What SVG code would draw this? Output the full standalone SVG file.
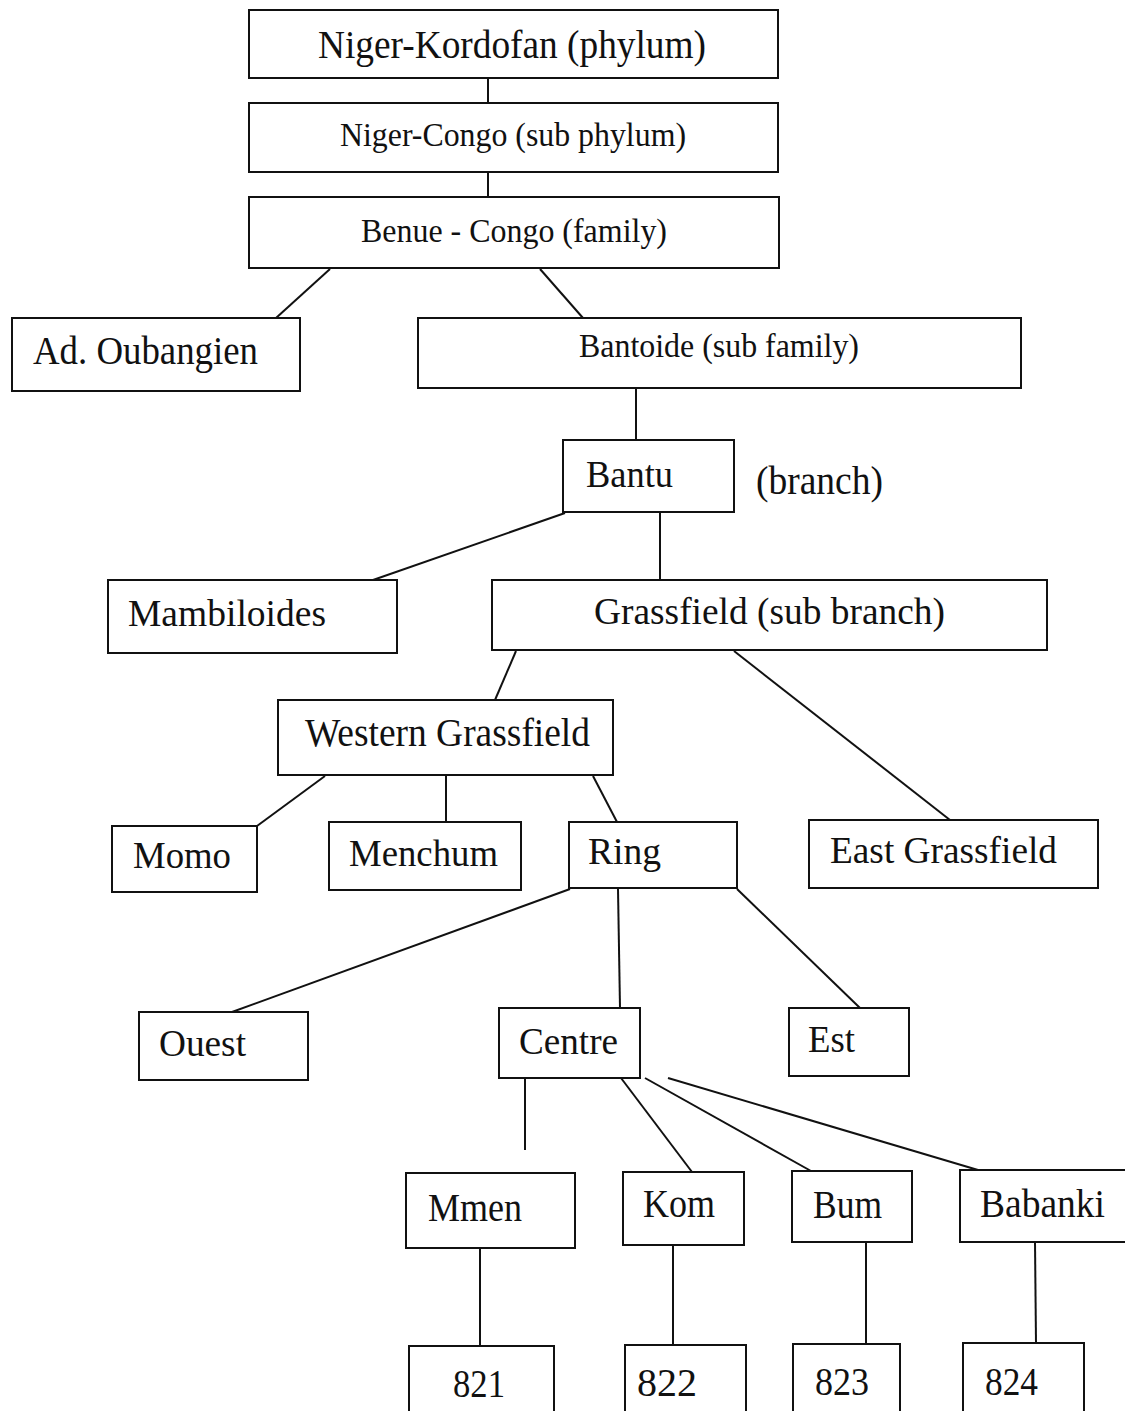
<svg xmlns="http://www.w3.org/2000/svg" width="1125" height="1411" viewBox="0 0 1125 1411">
<style>
rect{fill:#fff;stroke:#111;stroke-width:2}
line{stroke:#111;stroke-width:2}
text{font-family:"Liberation Serif","Times New Roman",serif;fill:#111;font-size:37px}
.m{font-size:33px}
.l{font-size:40px}
</style>
<rect x="0" y="0" width="1125" height="1411" style="stroke:none"/>
<g id="connectors">
<line x1="488" y1="78" x2="488" y2="103"/>
<line x1="488" y1="172" x2="488" y2="197"/>
<line x1="330" y1="269" x2="276" y2="318"/>
<line x1="540" y1="269" x2="583" y2="318"/>
<line x1="636" y1="388" x2="636" y2="440"/>
<line x1="565" y1="513" x2="373" y2="580"/>
<line x1="660" y1="512" x2="660" y2="580"/>
<line x1="516" y1="651" x2="495" y2="700"/>
<line x1="734" y1="651" x2="950" y2="820"/>
<line x1="325" y1="776" x2="257" y2="826"/>
<line x1="446" y1="776" x2="446" y2="822"/>
<line x1="593" y1="776" x2="617" y2="822"/>
<line x1="570" y1="889" x2="232" y2="1012"/>
<line x1="618" y1="889" x2="620" y2="1008"/>
<line x1="737" y1="889" x2="860" y2="1008"/>
<line x1="525" y1="1078" x2="525" y2="1150"/>
<line x1="621" y1="1078" x2="692" y2="1172"/>
<line x1="645" y1="1078" x2="811" y2="1171"/>
<line x1="668" y1="1078" x2="978" y2="1170"/>
<line x1="480" y1="1248" x2="480" y2="1346"/>
<line x1="673" y1="1245" x2="673" y2="1345"/>
<line x1="866" y1="1242" x2="866" y2="1344"/>
<line x1="1035" y1="1242" x2="1036" y2="1343"/>
</g>
<g id="n-niger-kordofan"><rect x="249" y="10" width="529" height="68"/><text x="318" y="58" textLength="388" lengthAdjust="spacingAndGlyphs" class="l">Niger-Kordofan (phylum)</text></g>
<g id="n-niger-congo"><rect x="249" y="103" width="529" height="69"/><text x="340" y="146" textLength="346" lengthAdjust="spacingAndGlyphs" class="m">Niger-Congo (sub phylum)</text></g>
<g id="n-benue-congo"><rect x="249" y="197" width="530" height="71"/><text x="361" y="242" textLength="306" lengthAdjust="spacingAndGlyphs" class="m">Benue - Congo (family)</text></g>
<g id="n-ad-oubangien"><rect x="12" y="318" width="288" height="73"/><text x="33" y="364" textLength="225" lengthAdjust="spacingAndGlyphs" class="l">Ad. Oubangien</text></g>
<g id="n-bantoide"><rect x="418" y="318" width="603" height="70"/><text x="579" y="357" textLength="280" lengthAdjust="spacingAndGlyphs" class="m">Bantoide (sub family)</text></g>
<g id="n-bantu"><rect x="563" y="440" width="171" height="72"/><text x="586" y="487" textLength="87" lengthAdjust="spacingAndGlyphs">Bantu</text></g>
<text x="756" y="494" textLength="127" lengthAdjust="spacingAndGlyphs" class="l">(branch)</text>
<g id="n-mambiloides"><rect x="108" y="580" width="289" height="73"/><text x="128" y="626" textLength="198" lengthAdjust="spacingAndGlyphs">Mambiloides</text></g>
<g id="n-grassfield"><rect x="492" y="580" width="555" height="70"/><text x="594" y="624" textLength="351" lengthAdjust="spacingAndGlyphs">Grassfield (sub branch)</text></g>
<g id="n-western"><rect x="278" y="700" width="335" height="75"/><text x="305" y="746" textLength="285" lengthAdjust="spacingAndGlyphs" class="l">Western Grassfield</text></g>
<g id="n-momo"><rect x="112" y="826" width="145" height="66"/><text x="133" y="868" textLength="98" lengthAdjust="spacingAndGlyphs">Momo</text></g>
<g id="n-menchum"><rect x="329" y="822" width="192" height="68"/><text x="349" y="866" textLength="149" lengthAdjust="spacingAndGlyphs">Menchum</text></g>
<g id="n-ring"><rect x="569" y="822" width="168" height="66"/><text x="588" y="864" textLength="73" lengthAdjust="spacingAndGlyphs">Ring</text></g>
<g id="n-east"><rect x="809" y="820" width="289" height="68"/><text x="830" y="863" textLength="227" lengthAdjust="spacingAndGlyphs">East Grassfield</text></g>
<g id="n-ouest"><rect x="139" y="1012" width="169" height="68"/><text x="159" y="1056" textLength="87" lengthAdjust="spacingAndGlyphs">Ouest</text></g>
<g id="n-centre"><rect x="499" y="1008" width="141" height="70"/><text x="519" y="1054" textLength="99" lengthAdjust="spacingAndGlyphs">Centre</text></g>
<g id="n-est"><rect x="789" y="1008" width="120" height="68"/><text x="808" y="1052" textLength="47" lengthAdjust="spacingAndGlyphs">Est</text></g>
<g id="n-mmen"><rect x="406" y="1173" width="169" height="75"/><text x="428" y="1221" textLength="94" lengthAdjust="spacingAndGlyphs" class="l">Mmen</text></g>
<g id="n-kom"><rect x="623" y="1172" width="121" height="73"/><text x="643" y="1217" textLength="72" lengthAdjust="spacingAndGlyphs" class="l">Kom</text></g>
<g id="n-bum"><rect x="792" y="1171" width="120" height="71"/><text x="813" y="1218" textLength="69" lengthAdjust="spacingAndGlyphs" class="l">Bum</text></g>
<g id="n-babanki"><rect x="960" y="1170" width="170" height="72"/><text x="980" y="1217" textLength="125" lengthAdjust="spacingAndGlyphs" class="l">Babanki</text></g>
<g id="n-821"><rect x="409" y="1346" width="145" height="72"/><text x="453" y="1397" textLength="52" lengthAdjust="spacingAndGlyphs" class="l">821</text></g>
<g id="n-822"><rect x="625" y="1345" width="121" height="73"/><text x="637" y="1396" textLength="60" lengthAdjust="spacingAndGlyphs" class="l">822</text></g>
<g id="n-823"><rect x="793" y="1344" width="107" height="74"/><text x="815" y="1395" textLength="54" lengthAdjust="spacingAndGlyphs" class="l">823</text></g>
<g id="n-824"><rect x="963" y="1343" width="121" height="75"/><text x="985" y="1395" textLength="53" lengthAdjust="spacingAndGlyphs" class="l">824</text></g>
</svg>
